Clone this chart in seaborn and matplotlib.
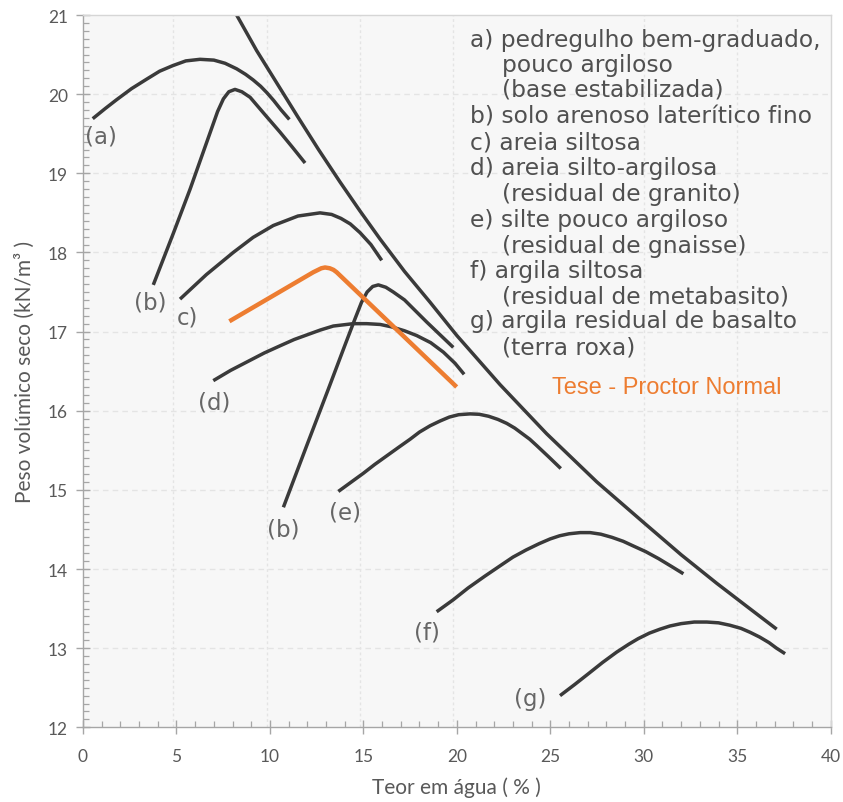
import numpy as np
import pandas as pd
import matplotlib
matplotlib.use("Agg")
import matplotlib.pyplot as plt
from matplotlib.ticker import MultipleLocator
import seaborn as sns

# ---- data (x = teor em água %, y = peso volúmico seco kN/m3) ----
a_x = [0.52, 1.2, 1.8, 2.6, 3.41, 4.1, 4.8, 5.5, 6.26, 7.0, 7.6, 8.22, 8.7, 9.1, 9.5, 9.83, 10.2, 10.6, 11.04]
a_y = [19.69, 19.82, 19.93, 20.07, 20.19, 20.29, 20.36, 20.42, 20.44, 20.43, 20.39, 20.32, 20.25, 20.18, 20.10, 20.02, 19.92, 19.80, 19.68]

b1_x = [3.76, 4.83, 5.73, 6.6, 7.2, 7.51, 7.8, 8.13, 8.5, 8.94, 9.7, 10.54, 11.2, 11.88]
b1_y = [17.59, 18.24, 18.80, 19.38, 19.78, 19.94, 20.03, 20.06, 20.03, 19.96, 19.75, 19.52, 19.33, 19.13]

b2_x = [10.72, 11.97, 13.12, 14.0, 14.55, 14.9, 15.2, 15.5, 15.8, 16.2, 16.6, 17.2, 18.39, 19.81]
b2_y = [14.78, 15.56, 16.27, 16.82, 17.16, 17.37, 17.50, 17.57, 17.59, 17.56, 17.50, 17.40, 17.12, 16.80]

c_x = [5.19, 6.6, 8.04, 9.1, 10.18, 11.5, 12.68, 13.3, 13.8, 14.3, 14.82, 15.4, 15.98]
c_y = [17.41, 17.72, 18.00, 18.19, 18.34, 18.46, 18.50, 18.48, 18.43, 18.36, 18.25, 18.10, 17.90]

d_x = [6.97, 7.9, 8.8, 9.7, 10.54, 11.3, 12.0, 12.7, 13.39, 14.46, 15.18, 15.9, 16.5, 17.2, 17.85, 18.6, 19.28, 19.9, 20.39]
d_y = [16.38, 16.51, 16.62, 16.73, 16.82, 16.90, 16.96, 17.02, 17.07, 17.10, 17.10, 17.09, 17.06, 17.01, 16.95, 16.86, 16.74, 16.60, 16.46]

e_x = [13.66, 14.3, 15.0, 15.6, 16.25, 16.9, 17.5, 18.0, 18.57, 19.1, 19.6, 20.1, 20.71, 21.2, 21.7, 22.2, 22.67, 23.1, 23.5, 23.9, 24.27, 24.9, 25.56]
e_y = [14.98, 15.09, 15.21, 15.32, 15.43, 15.54, 15.64, 15.73, 15.81, 15.87, 15.92, 15.95, 15.96, 15.955, 15.93, 15.89, 15.84, 15.78, 15.71, 15.64, 15.56, 15.42, 15.27]

f_x = [18.92, 19.8, 20.6, 21.5, 22.31, 23.0, 23.7, 24.4, 24.99, 25.5, 26.0, 26.6, 27.13, 27.7, 28.3, 28.9, 29.45, 30.1, 30.8, 31.5, 32.12]
f_y = [13.46, 13.61, 13.76, 13.91, 14.04, 14.15, 14.24, 14.32, 14.38, 14.42, 14.445, 14.46, 14.46, 14.44, 14.40, 14.35, 14.29, 14.22, 14.13, 14.03, 13.94]

g_x = [25.52, 26.3, 27.0, 27.8, 28.55, 29.2, 29.7, 30.3, 30.87, 31.4, 32.0, 32.7, 33.37, 34.0, 34.6, 35.2, 35.69, 36.2, 36.7, 37.1, 37.56]
g_y = [12.40, 12.54, 12.67, 12.82, 12.95, 13.05, 13.12, 13.19, 13.24, 13.28, 13.31, 13.33, 13.33, 13.32, 13.29, 13.25, 13.20, 13.14, 13.07, 13.00, 12.93]

sat_x = [8.10, 9.29, 10.5, 11.5, 12.6, 13.75, 14.8, 15.89, 17.2, 18.57, 20.0, 22.31, 24.8, 27.49, 29.98, 32.0, 33.9, 35.5, 37.11]
sat_y = [21.05, 20.55, 20.09, 19.71, 19.30, 18.89, 18.53, 18.17, 17.76, 17.37, 16.95, 16.33, 15.71, 15.10, 14.59, 14.18, 13.82, 13.53, 13.24]

tese_x = [7.83, 12.32, 12.75, 12.95, 13.2, 13.40, 13.57, 19.99]
tese_y = [17.13, 17.75, 17.80, 17.81, 17.80, 17.78, 17.75, 16.30]

x_ticks = [0, 5, 10, 15, 20, 25, 30, 35, 40]
y_ticks = [12, 13, 14, 15, 16, 17, 18, 19, 20, 21]

legend_lines = [
    ("a) pedregulho bem-graduado,", 0),
    ("pouco argiloso", 1),
    ("(base estabilizada)", 1),
    ("b) solo arenoso laterítico fino", 0),
    ("c) areia siltosa", 0),
    ("d) areia silto-argilosa", 0),
    ("(residual de granito)", 1),
    ("e) silte pouco argiloso", 0),
    ("(residual de gnaisse)", 1),
    ("f) argila siltosa", 0),
    ("(residual de metabasito)", 1),
    ("g) argila residual de basalto", 0),
    ("(terra roxa)", 1),
]

curve_labels = ["(a)", "(b)", "c)", "(d)", "(b)", "(e)", "(f)", "(g)"]
curve_label_x = [0.95, 3.6, 5.6, 7.0, 10.7, 14.0, 18.4, 23.9]
curve_label_y = [19.47, 17.37, 17.18, 16.11, 14.50, 14.72, 13.20, 12.36]

# ---- figure ----
sns.set_theme(style="white")
plt.rcParams["font.family"] = ["Lato", "DejaVu Sans"]
plt.rcParams.update({
    "xtick.bottom": True, "ytick.left": True,
    "xtick.minor.bottom": True, "ytick.minor.left": True,
    "xtick.major.size": 10, "ytick.major.size": 10,
    "xtick.minor.size": 5, "ytick.minor.size": 5,
    "xtick.major.width": 1.0, "ytick.major.width": 1.0,
    "xtick.minor.width": 0.9, "ytick.minor.width": 0.9,
})

fig = plt.figure(figsize=(8.43, 8.03), dpi=100)
ax = fig.add_axes([83 / 843, 1 - 728.3 / 803, (830.7 - 83) / 843, (728.3 - 16) / 803])
ax.set_facecolor("#f7f7f7")

dark = "#3a3a3a"
curves = [(a_x, a_y), (b1_x, b1_y), (b2_x, b2_y), (c_x, c_y), (d_x, d_y),
          (e_x, e_y), (f_x, f_y), (g_x, g_y), (sat_x, sat_y)]
for cx, cy in curves:
    df = pd.DataFrame({"x": cx, "y": cy})
    sns.lineplot(data=df, x="x", y="y", sort=False, estimator=None, color=dark,
                 lw=2.5, ax=ax, solid_capstyle="butt", solid_joinstyle="round")

df_t = pd.DataFrame({"x": tese_x, "y": tese_y})
sns.lineplot(data=df_t, x="x", y="y", sort=False, estimator=None, color="#ED7D31",
             lw=3.2, ax=ax, solid_capstyle="butt", solid_joinstyle="round")

# faint scanned grid
for gx in [4.8, 9.85, 14.8, 19.8, 30.0, 35.0]:
    ax.axvline(gx, color="#e4e4e4", lw=1.0, ls=(0, (2, 2)), zorder=0)
for gy in [13, 14, 15, 16, 17, 18, 19, 20]:
    ax.axhline(gy, color="#e4e4e4", lw=1.0, ls=(0, (4, 3)), zorder=0)

ax.set_xlim(0, 40)
ax.set_ylim(12, 21)
ax.set_xticks(x_ticks)
ax.set_yticks(y_ticks)
ax.xaxis.set_minor_locator(MultipleLocator(1))
ax.yaxis.set_minor_locator(MultipleLocator(0.1))

tick_col = "#595959"
ax.tick_params(axis="both", which="major", direction="inout", length=10, width=1,
               color="#a6a6a6", labelsize=12.5, labelcolor=tick_col)
ax.tick_params(axis="x", which="major", pad=10)
ax.tick_params(axis="y", which="major", pad=6)
ax.tick_params(axis="both", which="minor", direction="in", length=4, width=0.9,
               color="#a6a6a6")

for s in ["left", "bottom"]:
    ax.spines[s].set_color("#a6a6a6")
    ax.spines[s].set_linewidth(1.0)
for s in ["top", "right"]:
    ax.spines[s].set_color("#d6d6d6")
    ax.spines[s].set_linewidth(1.0)

ax.set_xlabel("Teor em água ( % )", fontsize=15, color=tick_col, labelpad=9)
ax.set_ylabel("Peso volúmico seco (kN/m³ )", fontsize=15, color=tick_col, labelpad=9)

# legend-like text block (part of the scanned figure)
line_px = [40, 65, 90, 116.7, 142.7, 168.3, 194.3, 220, 246, 271.7, 296.7, 321.7, 348.3]
for (txt, indent), py in zip(legend_lines, line_px):
    yy = 21 - (py - 16) / 79.14
    xx = 20.7 if indent == 0 else 22.4
    ax.text(xx, yy, txt, fontsize=16.8, color="#505050", family="DejaVu Sans",
            va="center", ha="left")

for lab, lx, ly in zip(curve_labels, curve_label_x, curve_label_y):
    ax.text(lx, ly, lab, fontsize=16.5, color="#666666", family="DejaVu Sans",
            ha="center", va="center")

ax.text(31.25, 16.30, "Tese - Proctor Normal", fontsize=17, color="#ED7D31",
        family="Liberation Sans", ha="center", va="center")

fig.savefig("out.png", dpi=100)
